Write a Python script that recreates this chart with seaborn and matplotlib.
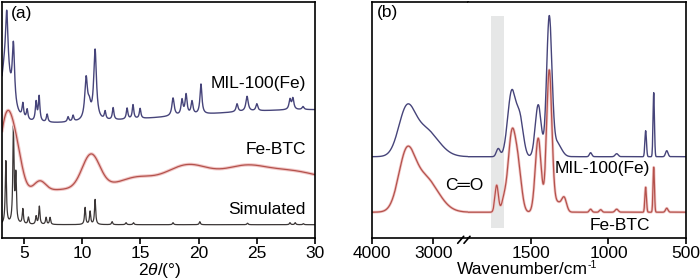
import numpy as np
import matplotlib
matplotlib.use("Agg")
import matplotlib.pyplot as plt
from matplotlib.lines import Line2D
import seaborn as sns

# ---- (a) XRD, peaks: centre (2theta), height, half width ----
mil_xrd_base = 111
mil_xrd_pos = [3.51, 4.08, 4.89, 5.26, 6.03, 6.29, 6.98, 8.78, 9.21, 10.33, 10.6, 11.10,
               11.96, 12.65, 13.85, 14.36, 14.97, 17.8, 18.57, 18.92, 19.43, 20.2,
               23.3, 24.16, 25.0, 27.85, 28.1, 28.97]
mil_xrd_hgt = [55, 60, 14, 10, 19, 25, 8, 5, 6, 41, 12, 70,
               8, 12, 11, 14, 10, 18, 15, 20, 13, 30,
               8, 15, 7, 10, 11, 3]
mil_xrd_wid = [0.12, 0.12, 0.08, 0.08, 0.08, 0.08, 0.08, 0.08, 0.08, 0.14, 0.15, 0.14,
               0.08, 0.08, 0.08, 0.08, 0.08, 0.12, 0.1, 0.1, 0.1, 0.1,
               0.1, 0.12, 0.1, 0.1, 0.1, 0.1]
# low-angle rise (centre, height, half width) and broad hump (centre, height, sigma)
mil_xrd_low = (3.4, 60, 0.5)
mil_xrd_hump = [(30, 17, 12)]

fe_xrd_base = 44
fe_xrd_broad = [(3.5, 75, 0.6), (4.4, 28, 0.5), (6.35, 10, 0.5), (10.75, 33, 0.75),
                (14.6, 5, 1.2), (19.0, 12, 1.6), (24.1, 8, 1.6), (28.0, 5, 2.0),
                (24, 20, 9)]

sim_xrd_base = 13
sim_xrd_pos = [3.43, 4.08, 4.29, 4.89, 5.37, 6.03, 6.31, 6.89, 7.23, 10.24, 10.67, 11.10,
               12.56, 13.76, 14.4, 17.8, 20.1, 24.2, 27.85, 28.3, 29.0]
sim_xrd_hgt = [63, 95, 47, 15, 7, 8, 18, 7, 7, 17, 13, 25,
               3, 2, 2, 2, 3, 1.5, 2, 2, 1]

# ---- (b) FTIR, bands (centre cm-1, height, sigma) ----
mil_ir_base = 81
mil_ir_bands = [(3440, 40, 130), (3150, 28, 220), (1711, 8, 12), (1624, 65, 26),
                (1571, 36, 22), (1453, 52, 19), (1382, 137, 17), (1335, 14, 30),
                (1115, 4, 8), (947, 3, 10), (760, 26, 5), (708, 64, 4.5), (624, 6, 8)]
fe_ir_base = 25.5
fe_ir_bands = [(3440, 50, 130), (3150, 35, 220), (1721, 27, 11), (1675, 10, 15),
               (1624, 76, 24), (1582, 40, 22), (1453, 74, 19), (1382, 140, 17),
               (1330, 10, 30), (1285, 12, 15), (1115, 3, 8), (1050, 2.5, 8),
               (947, 3, 10), (760, 25, 5), (708, 45, 4.5), (624, 4, 8)]

x_ticks_a = [5, 10, 15, 20, 25, 30]
x_ticks_b_left = [4000, 3000]
x_ticks_b_right = [1500, 1000, 500]
co_band = (1674, 1758)


def lorentz(x, pos, hgt, wid):
    y = np.zeros_like(x)
    for c, h, w in zip(pos, hgt, wid):
        y += h / (1 + ((x - c) / w) ** 2)
    return y


def gauss(x, bands):
    y = np.zeros_like(x)
    for c, h, s in bands:
        y += h * np.exp(-(x - c) ** 2 / (2 * s * s))
    return y


tt = np.linspace(3.1, 30, 4000)
mil_xrd = mil_xrd_base + lorentz(tt, mil_xrd_pos, mil_xrd_hgt, mil_xrd_wid)
mil_xrd += lorentz(tt, [mil_xrd_low[0]], [mil_xrd_low[1]], [mil_xrd_low[2]])
mil_xrd += gauss(tt, mil_xrd_hump)
fe_xrd = fe_xrd_base + gauss(tt, fe_xrd_broad)
sim_xrd = sim_xrd_base + lorentz(tt, sim_xrd_pos, sim_xrd_hgt, [0.06] * len(sim_xrd_pos))

wn = np.linspace(500, 4000, 7000)
mil_ir = mil_ir_base + gauss(wn, mil_ir_bands)
fe_ir = fe_ir_base + gauss(wn, fe_ir_bands)

sns.set_theme(style="ticks")
plt.rcParams["font.family"] = ["Liberation Sans", "DejaVu Sans"]
plt.rcParams["mathtext.fontset"] = "custom"
plt.rcParams["mathtext.rm"] = "Liberation Sans"
plt.rcParams["mathtext.it"] = "Liberation Sans:italic"
plt.rcParams["axes.linewidth"] = 1.2

FS = 12.5
purple = "#46447a"
red = "#b4524c"
pink = "#f2c8c8"
dark = "#3b3636"

W, H = 700, 280
fig = plt.figure(figsize=(7, 2.8), dpi=100)


def box(x0, x1, y0=1.7, y1=237.7):
    return [x0 / W, 1 - y1 / H, (x1 - x0) / W, (y1 - y0) / H]


ax = fig.add_axes(box(2, 315))
sns.lineplot(x=tt, y=sim_xrd, ax=ax, color=dark, lw=0.9, estimator=None)
sns.lineplot(x=tt, y=fe_xrd, ax=ax, color=pink, lw=2.4, estimator=None)
sns.lineplot(x=tt, y=fe_xrd, ax=ax, color=red, lw=0.9, estimator=None)
sns.lineplot(x=tt, y=mil_xrd, ax=ax, color=purple, lw=1.0, estimator=None)
ax.set_xlim(3.1, 30)
ax.set_ylim(0, 236)
ax.set_xticks(x_ticks_a)
ax.set_yticks([])
ax.set_xlabel("")
ax.set_ylabel("")

axl = fig.add_axes(box(372, 468))
axr = fig.add_axes(box(468, 686))
for a in (axl, axr):
    a.axvspan(co_band[0], co_band[1], ymin=0.041, ymax=0.939, color="#e6e7e7", lw=0, zorder=0)
    sns.lineplot(x=wn, y=fe_ir, ax=a, color=pink, lw=2.0, estimator=None)
    sns.lineplot(x=wn, y=fe_ir, ax=a, color=red, lw=0.9, estimator=None)
    sns.lineplot(x=wn, y=mil_ir, ax=a, color=purple, lw=1.0, estimator=None)
    a.set_ylim(0, 236)
    a.set_yticks([])
    a.set_xlabel("")
    a.set_ylabel("")
axl.set_xlim(4000, 2434)
axr.set_xlim(1906, 500)
axl.set_xticks(x_ticks_b_left)
axr.set_xticks(x_ticks_b_right)
axl.spines["right"].set_visible(False)
axr.spines["left"].set_visible(False)

for a in (ax, axl, axr):
    a.tick_params(axis="x", direction="out", length=4, width=1.2, pad=2,
                  labelsize=FS, colors="black")
    for s in a.spines.values():
        s.set_color("black")

# break marks on the bottom axis
for x0 in (457.7, 464):
    fig.add_artist(Line2D([x0 / W, (x0 + 6) / W], [1 - 243.3 / H, 1 - 236.3 / H],
                          color="black", lw=1.2))


def ftext(x, y, s, size=FS, **kw):
    return fig.text(x / W, 1 - y / H, s, fontsize=size, color="black", **kw)


ftext(11, 6, "(a)", ha="left", va="top")
ftext(306, 83, "MIL-100(Fe)", ha="right", va="center")
ftext(306, 149, "Fe-BTC", ha="right", va="center")
ftext(306, 210, "Simulated", ha="right", va="center")
ftext(160, 270, "2$\\mathit{\\theta}$/(°)", ha="center", va="center")

ftext(377, 5, "(b)", ha="left", va="top")
ftext(464.5, 185, "C═O", ha="center", va="center")
ftext(555, 169, "MIL-100(Fe)", ha="left", va="center")
ftext(590, 225, "Fe-BTC", ha="left", va="center")

# x label of (b): main part plus a small raised "-1"
lab = ftext(522, 270, "Wavenumber/cm", ha="center", va="center")
bb = lab.get_window_extent(renderer=fig.canvas.get_renderer())
ftext(bb.x1 + 0.5, 265, "-1", size=7.5, ha="left", va="center")

fig.savefig("out.png", dpi=100)
